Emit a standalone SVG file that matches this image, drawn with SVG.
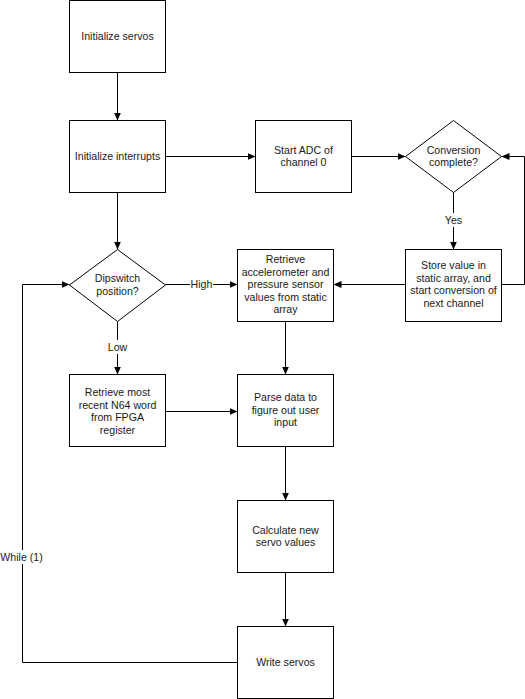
<svg xmlns="http://www.w3.org/2000/svg" width="525" height="699" viewBox="0 0 525 699">
<defs>
<style>
.box{fill:#fff;stroke:#000;stroke-width:1}
.ln{fill:none;stroke:#000;stroke-width:1}
.t{font-family:"Liberation Sans",Arial,sans-serif;font-size:10.6px;fill:#1a1a1a;text-anchor:middle}
.bg{fill:#fff;stroke:none}
</style>
<marker id="ar" markerUnits="userSpaceOnUse" markerWidth="8" markerHeight="8" refX="8" refY="4" orient="auto">
<path d="M0,0.5 L8,4 L0,7.5 z" fill="#000"/>
</marker>
</defs>
<rect width="525" height="699" fill="#fff"/>
<g id="connectors">
<path class="ln" d="M117.5,72.5 V120.5" marker-end="url(#ar)"/>
<path class="ln" d="M165.5,156.5 H255.5" marker-end="url(#ar)"/>
<path class="ln" d="M351.5,156.5 H405.5" marker-end="url(#ar)"/>
<path class="ln" d="M453.5,192.5 V249.5" marker-end="url(#ar)"/>
<path class="ln" d="M501.5,284.5 H524.5 V156.5 H501.5" marker-end="url(#ar)"/>
<path class="ln" d="M405.5,284.5 H333.5" marker-end="url(#ar)"/>
<path class="ln" d="M117.5,192.5 V249.5" marker-end="url(#ar)"/>
<path class="ln" d="M165.5,284.5 H237.5" marker-end="url(#ar)"/>
<path class="ln" d="M117.5,321.5 V374.5" marker-end="url(#ar)"/>
<path class="ln" d="M285.5,321.5 V374.5" marker-end="url(#ar)"/>
<path class="ln" d="M165.5,411.5 H237.5" marker-end="url(#ar)"/>
<path class="ln" d="M285.5,446.5 V500.5" marker-end="url(#ar)"/>
<path class="ln" d="M285.5,572.5 V626.5" marker-end="url(#ar)"/>
<path class="ln" d="M237.5,662.5 H22.5 V284.5 H69.5" marker-end="url(#ar)"/>
<rect class="bg" x="442" y="213" width="23" height="14"/>
<text class="t" x="453.5" y="224">Yes</text>
<rect class="bg" x="190" y="278" width="23" height="13"/>
<text class="t" x="201.5" y="288">High</text>
<rect class="bg" x="106" y="340" width="23" height="14"/>
<text class="t" x="117.5" y="351">Low</text>
<rect class="bg" x="0" y="550" width="43" height="14"/>
<text class="t" x="21.5" y="561">While (1)</text>
</g>
<g id="n1"><rect class="box" x="69.5" y="0.5" width="96" height="72"/><text class="t" x="117.5" y="40">Initialize servos</text></g>
<g id="n2"><rect class="box" x="69.5" y="120.5" width="96" height="72"/><text class="t" x="117.5" y="160">Initialize interrupts</text></g>
<g id="n3"><rect class="box" x="255.5" y="120.5" width="96" height="72"/><text class="t" x="303.5" y="154">Start ADC of</text><text class="t" x="303.5" y="166">channel 0</text></g>
<g id="n4"><path class="box" d="M453.5,120.5 L501.5,156.5 L453.5,192.5 L405.5,156.5 z"/><text class="t" x="453.5" y="154">Conversion</text><text class="t" x="453.5" y="166">complete?</text></g>
<g id="n5"><rect class="box" x="405.5" y="249.5" width="96" height="72"/><text class="t" x="453.5" y="269">Store value in</text><text class="t" x="453.5" y="281.5">static array, and</text><text class="t" x="453.5" y="294">start conversion of</text><text class="t" x="453.5" y="306.5">next channel</text></g>
<g id="n6"><rect class="box" x="237.5" y="249.5" width="96" height="72"/><text class="t" x="285.5" y="263">Retrieve</text><text class="t" x="285.5" y="275.5">accelerometer and</text><text class="t" x="285.5" y="288">pressure sensor</text><text class="t" x="285.5" y="300.5">values from static</text><text class="t" x="285.5" y="313">array</text></g>
<g id="n7"><path class="box" d="M117.5,249.5 L165.5,285 L117.5,321.5 L69.5,285 z"/><text class="t" x="117.5" y="282">Dipswitch</text><text class="t" x="117.5" y="295">position?</text></g>
<g id="n8"><rect class="box" x="69.5" y="374.5" width="96" height="72"/><text class="t" x="117.5" y="396">Retrieve most</text><text class="t" x="117.5" y="408.5">recent N64 word</text><text class="t" x="117.5" y="421">from FPGA</text><text class="t" x="117.5" y="433.5">register</text></g>
<g id="n9"><rect class="box" x="237.5" y="374.5" width="96" height="72"/><text class="t" x="285.5" y="401">Parse data to</text><text class="t" x="285.5" y="413.5">figure out user</text><text class="t" x="285.5" y="426">input</text></g>
<g id="n10"><rect class="box" x="237.5" y="500.5" width="96" height="72"/><text class="t" x="285.5" y="534">Calculate new</text><text class="t" x="285.5" y="546">servo values</text></g>
<g id="n11"><rect class="box" x="237.5" y="626.5" width="96" height="72"/><text class="t" x="285.5" y="666">Write servos</text></g>
</svg>
